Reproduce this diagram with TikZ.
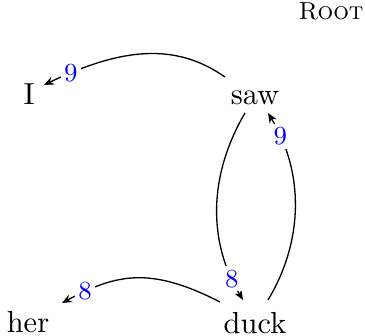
\documentclass[tikz,border=0pt]{standalone}
\usetikzlibrary{arrows.meta}
\begin{document}
\begin{tikzpicture}[x=0.345pt,y=-0.345pt,
  word/.style={anchor=base,inner sep=0pt,font=\fontsize{10.5}{12}\selectfont},
  arc/.style={line width=0.45pt,-{Stealth[length=3.4pt,width=2.8pt]}},
  lbl/.style={pos=0.9,fill=white,inner sep=1.2pt,text=blue,font=\fontsize{9}{10}\selectfont}]
\useasboundingbox (0,0) rectangle (365,335);
\node[word] (I) at (29,105) {I};
\node[word] (saw) at (255,105) {saw};
\node[word] (her) at (28,332) {her};
\node[word] (duck) at (255,333) {duck};
\node[anchor=base,inner sep=0pt,font=\fontsize{8.5}{10}\selectfont] (root) at (331,20) {\textsc{Root}};
% saw -> I
\draw[arc] ([shift={(-30,-28)}]saw.base) .. controls (175,42) and (121,48) .. ([shift={(15,-20)}]I.base) node[lbl,pos=0.88] {9};
% duck -> her
\draw[arc] ([shift={(-35,-31)}]duck.base) .. controls (150,266) and (116,274) .. ([shift={(34,-29)}]her.base) node[lbl,pos=0.85] {8};
% saw -> duck
\draw[arc] ([shift={(-10,8)}]saw.base) .. controls (208,176) and (208,242) .. ([shift={(-12,-33)}]duck.base) node[lbl,pos=0.88] {8};
% duck -> saw
\draw[arc] ([shift={(13,-33)}]duck.base) .. controls (304,240) and (304,172) .. ([shift={(13,8)}]saw.base) node[lbl,pos=0.87] {9};
\end{tikzpicture}
\end{document}
